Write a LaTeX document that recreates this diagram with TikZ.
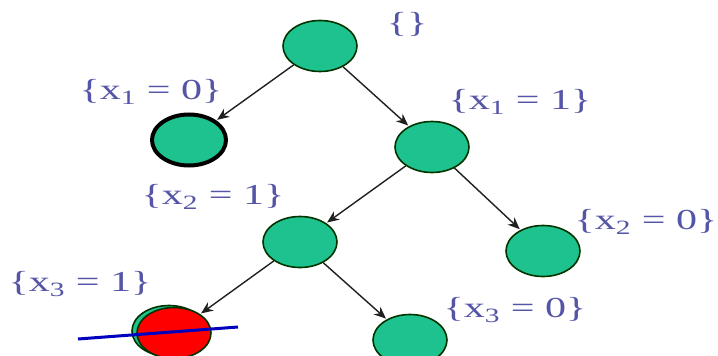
\documentclass[tikz,border=0pt]{standalone}
\usepackage{fontspec}
\setmainfont{Liberation Serif}
\usetikzlibrary{shapes.geometric,arrows.meta}
\definecolor{nodegreen}{HTML}{1EC28E}
\definecolor{labelblue}{HTML}{5555A8}
\definecolor{edgegray}{HTML}{202020}
\newcommand{\lbl}[2]{\scalebox{1.45}[1]{\{x\textsubscript{#1} = #2\}}}
\tikzset{
  treenode/.style={ellipse, draw=black!80!green, line width=1.6pt, fill=nodegreen,
    minimum width=74pt, minimum height=51pt, inner sep=0pt},
  labeltext/.style={text=labelblue, font=\fontsize{29}{29}\selectfont, inner sep=0pt},
  edge/.style={draw=edgegray, line width=1.4pt, -{Stealth[length=12pt,width=10pt]}, shorten >=1pt}
}
\begin{document}
\begin{tikzpicture}[x=1pt,y=-1pt]
\useasboundingbox (0,0) rectangle (718,356);
\fill[white] (0,0) rectangle (718,356);
% nodes
\node[treenode] (root) at (320,46) {};
\node[treenode, line width=4pt, draw=black] (a0) at (189,140) {};
\node[treenode] (a1) at (432,147) {};
\node[treenode] (b1) at (300,242) {};
\node[treenode] (b0) at (543,251) {};
\node[treenode] (c0) at (410,340) {};
\node[treenode] (c1g) at (169,331) {};
\node[treenode, fill=red] (c1) at (174,333) {};
% edges
\draw[edge] (root) -- (a0);
\draw[edge] (root) -- (a1);
\draw[edge] (a1) -- (b1);
\draw[edge] (a1) -- (b0);
\draw[edge] (b1) -- (c1);
\draw[edge] (b1) -- (c0);
% cross-out line
\coordinate (s1) at (78,339);
\coordinate (s2) at (238,327);
\draw[blue!75!black, line width=3pt] (s1) -- (s2);
% labels
\node[labeltext] (lroot) at (407,24) {\scalebox{1.45}[1]{\{\}}};
\node[labeltext] (la0) at (151,92) {\lbl{1}{0}};
\node[labeltext] (la1) at (520,102) {\lbl{1}{1}};
\node[labeltext] (lb1) at (213,197) {\lbl{2}{1}};
\node[labeltext] (lb0) at (646,222) {\lbl{2}{0}};
\node[labeltext] (lc1) at (80,284) {\lbl{3}{1}};
\node[labeltext] (lc0) at (515,310) {\lbl{3}{0}};
\end{tikzpicture}
\end{document}
